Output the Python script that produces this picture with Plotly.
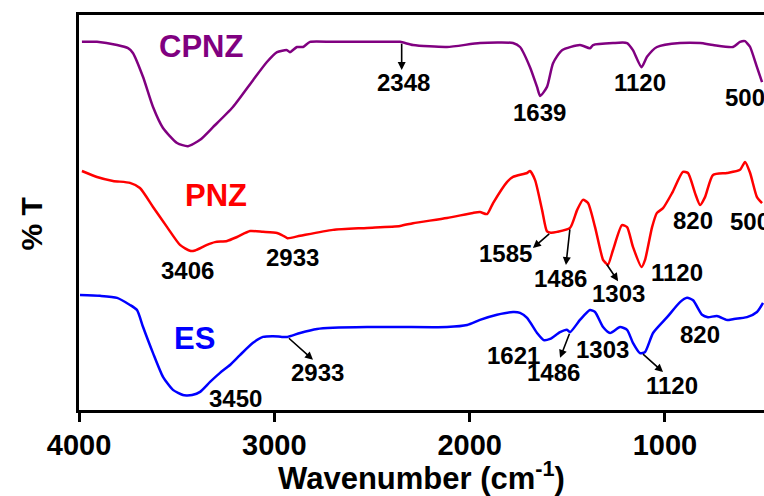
import numpy as np
import plotly.graph_objects as go

# FTIR spectra: wavenumber (cm^-1) and transmittance (arbitrary offset units)
cpnz_wn = [3985, 3908, 3805, 3749, 3724, 3672, 3621, 3570, 3498, 3442, 3380, 3314,
           3212, 3109, 3038, 2986, 2935, 2920, 2884, 2853, 2817, 2700, 2459, 2356,
           2290, 2116, 1947, 1778, 1742, 1691, 1655, 1639, 1604, 1573, 1527, 1435,
           1384, 1368, 1266, 1194, 1164, 1120, 1092, 1041, 923, 820, 754, 652, 616,
           590, 580, 564, 529, 503]
cpnz_t = [93.2, 93.2, 92.4, 91.6, 90.4, 84.3, 76.7, 71.4, 67.6, 66.8, 68.4, 71.6,
          76.7, 83.5, 88.1, 90.6, 91.1, 90.6, 91.9, 91.9, 93.2, 93.2, 93.2, 93.2,
          92.4, 91.9, 92.9, 92.9, 91.9, 86.8, 81.8, 79.5, 81.8, 87.8, 91.1, 92.4,
          91.6, 92.4, 92.9, 92.9, 91.1, 86.8, 89.4, 91.9, 92.9, 92.9, 92.4, 91.9, 93.2,
          93.4, 92.9, 91.9, 86.8, 83.0]

pnz_wn = [3985, 3908, 3826, 3739, 3688, 3621, 3549, 3483, 3432, 3406, 3345, 3304,
          3242, 3191, 3124, 3058, 2986, 2961, 2933, 2868, 2700, 2525, 2356, 2290,
          2116, 1983, 1947, 1911, 1880, 1809, 1778, 1706, 1691, 1665, 1629, 1604,
          1585, 1553, 1486, 1450, 1420, 1394, 1358, 1317, 1303, 1292, 1266, 1220,
          1194, 1164, 1120, 1102, 1066, 1041, 1010, 964, 908, 882, 846, 820, 795,
          754, 682, 616, 590, 564, 529, 503]
pnz_t = [60.5, 59.0, 58.0, 57.5, 56.2, 51.4, 46.3, 41.8, 40.3, 40.4, 41.8, 42.5,
         42.8, 43.8, 45.3, 45.1, 44.8, 44.3, 43.5, 44.1, 45.6, 46.1, 46.6, 47.3,
         48.6, 49.9, 50.1, 49.6, 52.4, 57.7, 59.0, 60.0, 60.5, 58.2, 50.6, 45.2,
         44.9, 45.1, 46.1, 50.6, 53.2, 52.4, 46.3, 38.0, 37.2, 36.7, 40.5, 46.8,
         46.3, 41.3, 36.2, 38.0, 46.3, 49.9, 51.1, 54.9, 60.3, 60.0, 54.9, 51.9, 53.9,
         59.5, 60.0, 60.8, 62.8, 60.0, 53.9, 52.4]

es_wn = [3995, 3892, 3805, 3739, 3703, 3672, 3621, 3570, 3519, 3468, 3450, 3421,
         3380, 3329, 3278, 3227, 3176, 3109, 3058, 3007, 2961, 2933, 2868, 2781,
         2700, 2525, 2356, 2116, 2013, 1947, 1860, 1778, 1742, 1706, 1655, 1621,
         1588, 1537, 1502, 1486, 1435, 1384, 1358, 1317, 1281, 1230, 1194, 1164,
         1128, 1102, 1061, 989, 923, 887, 856, 810, 780, 734, 682, 652, 580, 529, 498]
es_t = [29.1, 28.9, 28.4, 26.6, 25.3, 21.0, 14.4, 8.4, 5.1, 3.8, 3.7, 3.8,
        4.6, 7.1, 9.4, 11.4, 13.9, 17.0, 18.5, 18.7, 18.5, 18.5, 19.5, 20.5,
        20.8, 21.0, 21.0, 21.0, 21.5, 22.8, 24.1, 24.8, 24.6, 23.3, 19.5, 17.7,
        18.0, 19.7, 20.3, 19.7, 22.8, 25.3, 24.8, 21.0, 19.5, 21.0, 20.3, 17.0,
        14.4, 14.7, 19.5, 23.5, 27.3, 28.4, 27.8, 24.1, 23.5, 23.8, 22.8, 23.0, 23.5, 24.8, 27.1]

series_names = ["CPNZ", "PNZ", "ES"]
series_colors = ["#800080", "#FF0000", "#0000FF"]

# Band labels: (text, label wn, label T, arrow head (wn, T) or None)
cpnz_bands = [("2348", 2341, 83.0, (2348, 86.1)),
              ("1639", 1640, 75.2, None),
              ("1120", 1128, 83.0, None)]
pnz_bands = [("3406", 3442, 35.4, None),
             ("2933", 2909, 38.7, None),
             ("1585", 1814, 39.7, (1676, 41.0)),
             ("1486", 1537, 33.4, (1507, 36.7)),
             ("1303", 1240, 29.6, (1240, 32.6)),
             ("1120", 938, 34.9, None),
             ("820", 856, 48.1, None)]
es_bands = [("3450", 3201, 3.0, None),
            ("2933", 2781, 9.6, (2802, 12.7)),
            ("1621", 1778, 13.9, None),
            ("1486", 1573, 9.6, (1537, 13.2)),
            ("1303", 1322, 15.2, None),
            ("1120", 964, 6.3, (1010, 9.6)),
            ("820", 820, 19.0, None)]

FONT = "Arial, Liberation Sans, sans-serif"
LABEL_FONT = dict(family=FONT, size=24, color="black", weight="bold")

fig = go.Figure()
for name, wn, t, col in zip(series_names, [cpnz_wn, pnz_wn, es_wn],
                            [cpnz_t, pnz_t, es_t], series_colors):
    fig.add_trace(go.Scatter(x=wn, y=t, mode="lines", name=name,
                             line=dict(color=col, width=2.5, shape="spline", smoothing=0.6),
                             showlegend=False))

annotations = []


def add_bands(bands, wn, t):
    order = np.argsort(wn)
    xs = np.array(wn)[order]
    ys = np.array(t)[order]
    for text, lx, ly, arrow in bands:
        annotations.append(dict(x=lx, y=ly, text=text, showarrow=False, font=LABEL_FONT))
        if arrow is not None:
            band = float(text)
            tail_y = float(np.interp(band, xs, ys))
            annotations.append(dict(x=arrow[0], y=arrow[1], ax=band, ay=tail_y,
                                    axref="x", ayref="y", text="", showarrow=True,
                                    arrowhead=2, arrowsize=1, arrowwidth=1.6,
                                    arrowcolor="black"))


add_bands(cpnz_bands, cpnz_wn, cpnz_t)
add_bands(pnz_bands, pnz_wn, pnz_t)
add_bands(es_bands, es_wn, es_t)

# 500 cm^-1 labels run off the right edge
annotations.append(dict(x=703, y=79.0, text="500", showarrow=False, xanchor="left",
                        font=LABEL_FONT))
annotations.append(dict(x=677, y=47.6, text="500", showarrow=False, xanchor="left",
                        font=LABEL_FONT))

# Sample names
for name, col, lx, ly in zip(series_names, series_colors, [3375, 3299, 3411], [91.9, 54.2, 18.2]):
    annotations.append(dict(x=lx, y=ly, text=name, showarrow=False,
                            font=dict(family=FONT, size=31, color=col, weight="bold")))

# Y-axis title
annotations.append(dict(xref="paper", yref="paper", x=-0.07, y=0.47, text="% T",
                        textangle=-90, showarrow=False, xanchor="center", yanchor="middle",
                        font=dict(family=FONT, size=30, color="black", weight="bold")))

fig.update_layout(
    width=764, height=496,
    margin=dict(l=79, r=0, t=15, b=86),
    plot_bgcolor="white", paper_bgcolor="white",
    annotations=annotations,
    xaxis=dict(range=[4000, 493], tickvals=[4000, 3000, 2000, 1000],
               ticks="outside", ticklen=9, tickwidth=2.5, tickcolor="black",
               ticklabelstandoff=-2,
               showline=True, linewidth=3, linecolor="black", mirror=True,
               showgrid=False, zeroline=False,
               tickfont=dict(family=FONT, size=29, color="black", weight="bold"),
               title=dict(text="Wavenumber (cm<sup>-1</sup>)", standoff=2,
                          font=dict(family=FONT, size=31, color="black", weight="bold"))),
    yaxis=dict(range=[0, 100], showticklabels=False, ticks="",
               showline=True, linewidth=3, linecolor="black", mirror=False,
               showgrid=False, zeroline=False),
)

fig.write_html("out.html")
